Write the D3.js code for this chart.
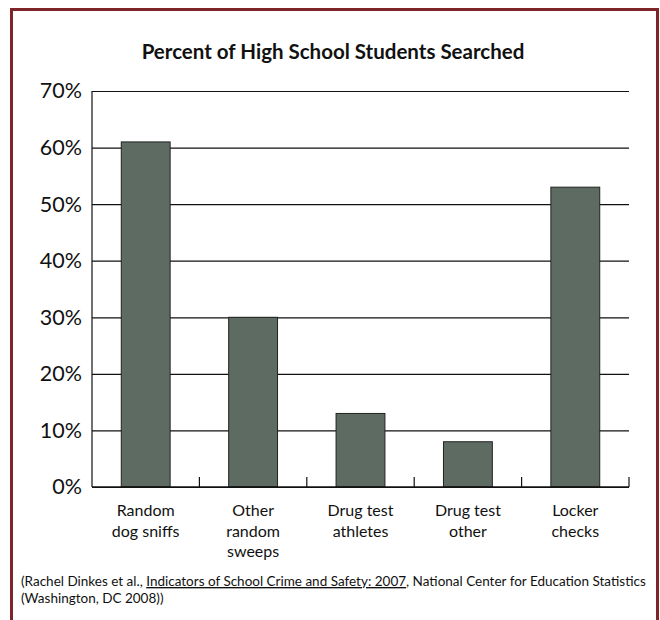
<!DOCTYPE html>
<meta charset="utf-8">
<script src="https://d3js.org/d3.v7.min.js"></script>
<style>
    body { margin: 0; background: #fff; }
    text { font-family: Lato, "Open Sans", sans-serif; fill: #111; }
</style>
<div id="my_chart"></div>
<script>
    // data
    var categories = ["Random dog sniffs", "Other random sweeps", "Drug test athletes", "Drug test other", "Locker checks"];
    var categoryLines = [["Random", "dog sniffs"], ["Other", "random", "sweeps"], ["Drug test", "athletes"], ["Drug test", "other"], ["Locker", "checks"]];
    var values = [61, 30, 13, 8, 53];
    var yTicks = [0, 10, 20, 30, 40, 50, 60, 70];

    var W = 660, H = 620;
    var margin = {top: 91, right: 31, bottom: 133, left: 92},
        width = W - margin.left - margin.right,
        height = H - margin.top - margin.bottom;

    var svg = d3.select("#my_chart").append("svg")
        .attr("width", W)
        .attr("height", H);

    // dark red frame, open at the bottom
    svg.append("path")
        .attr("d", "M11.5," + H + "V9.5H657.5V" + H)
        .attr("fill", "none")
        .attr("stroke", "#7d2529")
        .attr("stroke-width", 3);

    // title
    svg.append("text")
        .attr("x", 333)
        .attr("y", 59)
        .attr("text-anchor", "middle")
        .style("font-size", "20.5px")
        .style("font-weight", "bold")
        .text("Percent of High School Students Searched");

    var g = svg.append("g")
        .attr("transform", "translate(" + margin.left + "," + margin.top + ")");

    var x = d3.scaleBand()
        .domain(categories)
        .range([0, width])
        .paddingInner(0.545)
        .paddingOuter(0.2725);

    var y = d3.scaleLinear()
        .domain([0, 70])
        .range([height, 0]);

    // horizontal grid lines
    g.append("g")
        .call(d3.axisLeft(y).tickValues(yTicks).tickSize(-width).tickFormat(""))
        .call(function(a) { a.select(".domain").remove(); })
        .selectAll("line")
        .attr("stroke", "#111")
        .attr("stroke-width", 1.2);

    // y labels
    g.append("g")
        .call(d3.axisLeft(y).tickValues(yTicks).tickSize(0).tickPadding(10)
            .tickFormat(function(d) { return d + "%"; }))
        .call(function(a) { a.select(".domain").remove(); })
        .selectAll("text")
        .style("font-size", "21.5px")
        .style("font-family", "Lato, sans-serif")
        .attr("fill", "#111");

    // left axis line
    g.append("line")
        .attr("x1", 0).attr("x2", 0)
        .attr("y1", y(70)).attr("y2", y(0))
        .attr("stroke", "#111")
        .attr("stroke-width", 1.2);

    // bars
    g.selectAll(".bar")
        .data(values)
        .enter().append("rect")
        .attr("class", "bar")
        .attr("x", function(d, i) { return x(categories[i]); })
        .attr("y", function(d) { return y(d); })
        .attr("width", x.bandwidth())
        .attr("height", function(d) { return y(0) - y(d); })
        .attr("fill", "#5d6b63")
        .attr("stroke", "#222")
        .attr("stroke-width", 1);

    // baseline + category separators (ticks pointing up)
    g.append("line")
        .attr("x1", 0).attr("x2", width)
        .attr("y1", y(0)).attr("y2", y(0))
        .attr("stroke", "#111")
        .attr("stroke-width", 1.4);

    g.selectAll(".sep")
        .data(categories)
        .enter().append("line")
        .attr("class", "sep")
        .attr("x1", function(d) { return x(d) + x.bandwidth() / 2 + x.step() / 2; })
        .attr("x2", function(d) { return x(d) + x.bandwidth() / 2 + x.step() / 2; })
        .attr("y1", y(0) - 10)
        .attr("y2", y(0))
        .attr("stroke", "#111")
        .attr("stroke-width", 1.2);

    // category labels
    var lab = g.selectAll(".cat")
        .data(categoryLines)
        .enter().append("text")
        .attr("class", "cat")
        .attr("text-anchor", "middle")
        .attr("transform", function(d, i) {
            return "translate(" + (x(categories[i]) + x.bandwidth() / 2) + "," + (y(0) + 29) + ")";
        })
        .style("font-size", "16px");
    lab.selectAll("tspan")
        .data(function(d) { return d; })
        .enter().append("tspan")
        .attr("x", 0)
        .attr("dy", function(d, i) { return i === 0 ? 0 : 20.5; })
        .text(function(d) { return d; });

    // source note
    var src = svg.append("text")
        .attr("x", 21)
        .attr("y", 586)
        .style("font-size", "13.5px")
        .attr("fill", "#222");
    src.append("tspan").text("(Rachel Dinkes et al., ");
    src.append("tspan").style("text-decoration", "underline").text("Indicators of School Crime and Safety: 2007");
    src.append("tspan").text(", National Center for Education Statistics");
    svg.append("text")
        .attr("x", 21)
        .attr("y", 603)
        .style("font-size", "13.5px")
        .attr("fill", "#222")
        .text("(Washington, DC 2008))");
</script>
